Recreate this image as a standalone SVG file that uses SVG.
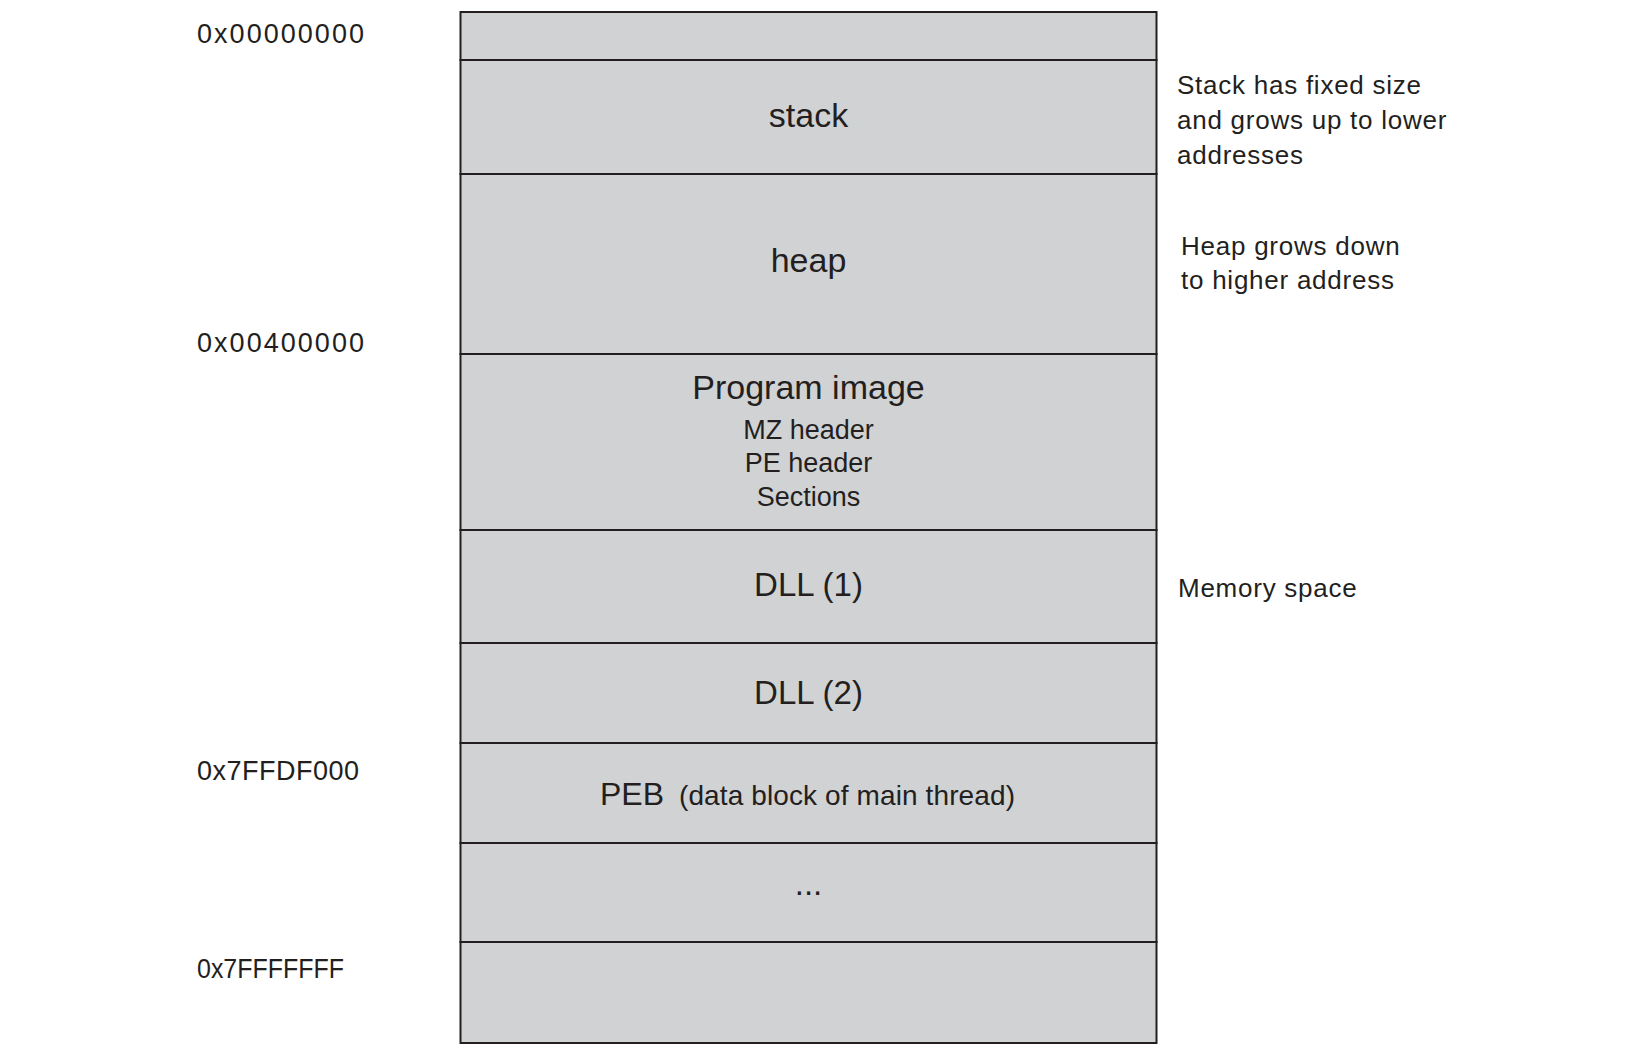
<svg xmlns="http://www.w3.org/2000/svg" width="1650" height="1056" viewBox="0 0 1650 1056">
<style>
.cell{fill:#d1d2d4;stroke:#231f20;stroke-width:2}
.lbl{font-family:"Liberation Sans",Arial,sans-serif;fill:#231f20;text-anchor:middle}
.big{font-size:33px}
.mid{font-size:27px}
.note{font-family:"Liberation Sans",Arial,sans-serif;fill:#231f20;font-size:26px;letter-spacing:0.75px}
.addr{font-family:"Liberation Sans",Arial,sans-serif;fill:#231f20;font-size:27px}
</style>
<rect width="1650" height="1056" fill="#ffffff"/>
<g id="row-top"><rect class="cell" x="460.5" y="12" width="696" height="48"/></g>
<g id="row-stack"><rect class="cell" x="460.5" y="60" width="696" height="114"/><text class="lbl big" x="808.5" y="127" style="font-size:34px">stack</text></g>
<g id="row-heap"><rect class="cell" x="460.5" y="174" width="696" height="180"/><text class="lbl big" x="808.5" y="272" style="font-size:34px">heap</text></g>
<g id="row-program"><rect class="cell" x="460.5" y="354" width="696" height="176"/>
<text class="lbl big" x="808.5" y="399" style="font-size:34px">Program image</text>
<text class="lbl mid" x="808.5" y="439">MZ header</text>
<text class="lbl mid" x="808.5" y="472">PE header</text>
<text class="lbl mid" x="808.5" y="506">Sections</text></g>
<g id="row-dll1"><rect class="cell" x="460.5" y="530" width="696" height="113"/><text class="lbl big" x="808.5" y="596">DLL (1)</text></g>
<g id="row-dll2"><rect class="cell" x="460.5" y="643" width="696" height="100"/><text class="lbl big" x="808.5" y="704">DLL (2)</text></g>
<g id="row-peb"><rect class="cell" x="460.5" y="743" width="696" height="100"/>
<text class="addr" x="600" y="805" style="font-size:32px">PEB</text>
<text class="addr" x="679" y="805" style="font-size:28px" textLength="336" lengthAdjust="spacing">(data block of main thread)</text></g>
<g id="row-dots"><rect class="cell" x="460.5" y="843" width="696" height="99"/><text class="lbl big" x="808.5" y="895">...</text></g>
<g id="row-bottom"><rect class="cell" x="460.5" y="942" width="696" height="101"/></g>
<g id="addresses">
<text class="addr" x="197" y="43" textLength="167" lengthAdjust="spacing">0x00000000</text>
<text class="addr" x="197" y="352" textLength="167" lengthAdjust="spacing">0x00400000</text>
<text class="addr" x="197" y="780" textLength="162" lengthAdjust="spacing">0x7FFDF000</text>
<text class="addr" x="197" y="978" textLength="147" lengthAdjust="spacingAndGlyphs">0x7FFFFFFF</text>
</g>
<g id="notes">
<text class="note" x="1177" y="94">Stack has fixed size</text>
<text class="note" x="1177" y="129">and grows up to lower</text>
<text class="note" x="1177" y="164">addresses</text>
<text class="note" x="1181" y="255">Heap grows down</text>
<text class="note" x="1181" y="289">to higher address</text>
<text class="note" x="1178" y="597">Memory space</text>
</g>
</svg>
